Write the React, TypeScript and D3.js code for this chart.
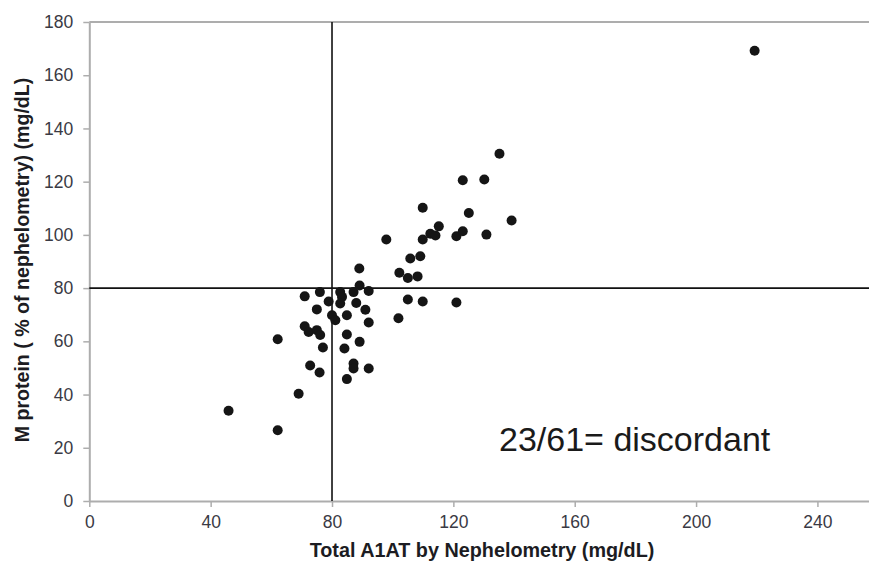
import React, { useEffect, useRef } from "react";
import * as d3 from "d3";

// values
const a1atTotal = [
    45.9, 62.1, 62.1, 69.0, 71.0, 71.0, 72.3, 72.8, 75.0, 75.0,
    76.0, 76.1, 75.9, 77.0, 78.9, 80.0, 81.1, 82.7, 83.3, 82.7,
    84.9, 84.9, 84.1, 84.9, 87.1, 88.0, 87.1, 87.1, 89.1, 89.0,
    89.1, 91.0, 92.1, 92.1, 92.1, 97.9, 101.9, 102.2, 105.0, 105.0,
    105.8, 108.2, 109.1, 109.9, 109.9, 109.9, 112.4, 114.1, 115.2, 121.0,
    121.0, 123.1, 123.1, 125.1, 130.2, 130.9, 135.2, 139.2, 219.3
];
const mProtein = [
    33.9, 26.6, 60.8, 40.3, 76.9, 65.7, 63.5, 50.9, 72.0, 64.2,
    78.5, 62.4, 48.3, 57.7, 75.0, 69.8, 67.9, 78.5, 76.7, 74.2,
    69.8, 62.6, 57.3, 45.8, 78.5, 74.4, 51.7, 49.8, 81.0, 87.4,
    59.8, 71.9, 78.9, 67.1, 49.8, 98.3, 68.7, 85.8, 83.8, 75.7,
    91.1, 84.4, 92.0, 98.3, 110.2, 75.0, 100.4, 99.8, 103.2, 99.5,
    74.6, 101.4, 120.5, 108.2, 120.8, 100.1, 130.5, 105.4, 169.2
];

const xTicks = [0, 40, 80, 120, 160, 200, 240];
const yTicks = [0, 20, 40, 60, 80, 100, 120, 140, 160, 180];
const cutoff = 80;
const note = "23/61= discordant";

const W = 869;
const H = 564;
const FONT = "Arial, 'Liberation Sans', Helvetica, sans-serif";

export default function App() {
    const svgRef = useRef<SVGSVGElement>(null);

    useEffect(() => {
        const svg = d3.select(svgRef.current);
        svg.selectAll("*").remove();

        const x = d3.scaleLinear().domain([0, 257]).range([89.3, W]);
        const y = d3.scaleLinear().domain([0, 180]).range([501, 22]);

        const axisColor = "#adadad";
        const labelColor = "#3a3a44";

        // top border line
        svg.append("line")
            .attr("x1", x(0)).attr("x2", W)
            .attr("y1", y(180)).attr("y2", y(180))
            .attr("stroke", axisColor).attr("stroke-width", 2);

        const xAxis = svg.append("g")
            .attr("transform", `translate(0,${y(0)})`)
            .call(d3.axisBottom(x).tickValues(xTicks).tickSize(6).tickPadding(6).tickSizeOuter(0));

        const yAxis = svg.append("g")
            .attr("transform", `translate(${x(0)},0)`)
            .call(d3.axisLeft(y).tickValues(yTicks).tickSize(6).tickPadding(10).tickSizeOuter(0));

        [xAxis, yAxis].forEach(g => {
            g.select(".domain").attr("stroke", axisColor).attr("stroke-width", 2);
            g.selectAll(".tick line").attr("stroke", axisColor).attr("stroke-width", 1.5);
            g.selectAll(".tick text")
                .attr("fill", labelColor)
                .style("font-family", FONT)
                .style("font-size", "17.5px");
        });
        xAxis.selectAll(".tick text").attr("dy", "0.85em");

        // cutoff lines at 80
        svg.append("line")
            .attr("x1", x(cutoff)).attr("x2", x(cutoff))
            .attr("y1", y(180)).attr("y2", y(0))
            .attr("stroke", "#111").attr("stroke-width", 1.6);
        svg.append("line")
            .attr("x1", x(0)).attr("x2", W)
            .attr("y1", y(cutoff)).attr("y2", y(cutoff))
            .attr("stroke", "#111").attr("stroke-width", 1.6);

        svg.append("g")
            .selectAll("circle")
            .data(d3.range(a1atTotal.length))
            .enter()
            .append("circle")
            .attr("cx", i => x(a1atTotal[i]))
            .attr("cy", i => y(mProtein[i]))
            .attr("r", 5)
            .attr("fill", "#151515");

        svg.append("text")
            .attr("x", 482)
            .attr("y", 557)
            .attr("text-anchor", "middle")
            .attr("fill", "#1c1c22")
            .style("font-family", FONT)
            .style("font-weight", "bold")
            .style("font-size", "19.8px")
            .text("Total A1AT by Nephelometry (mg/dL)");

        svg.append("text")
            .attr("transform", `translate(29,260) rotate(-90)`)
            .attr("text-anchor", "middle")
            .attr("fill", "#1c1c22")
            .style("font-family", FONT)
            .style("font-weight", "bold")
            .style("font-size", "19.6px")
            .text("M protein ( % of nephelometry) (mg/dL)");

        svg.append("text")
            .attr("x", 499)
            .attr("y", 451)
            .attr("fill", "#1a1a1a")
            .style("font-family", FONT)
            .style("font-size", "34px")
            .text(note);
    }, []);

    return (
        <>
            <style>{`body{margin:0}`}</style>
            <svg ref={svgRef} width={W} height={H} style={{ display: "block", background: "#fff" }} />
        </>
    );
}
